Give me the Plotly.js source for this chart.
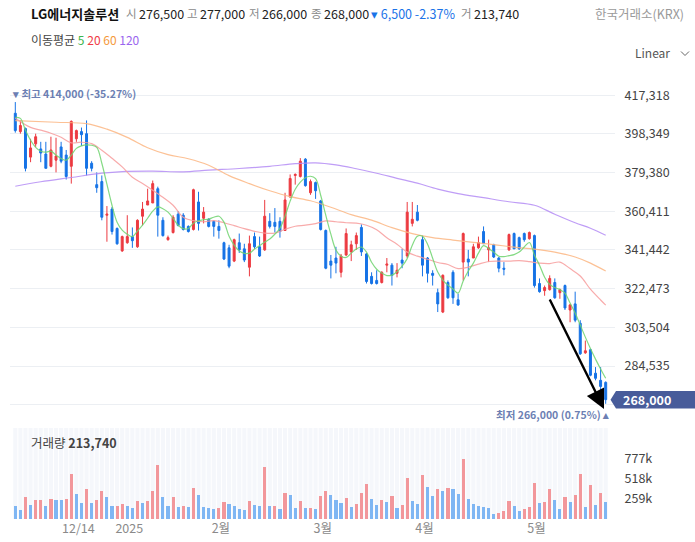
<!DOCTYPE html>
<html><head><meta charset="utf-8">
<script src="https://cdn.plot.ly/plotly-3.0.1.min.js"></script>
<style>html,body{margin:0;padding:0;background:#fff}#chart{width:695px;height:542px}</style>
</head><body><div id="chart"></div>
<script>
// ---------------- DATA ----------------
const stockName = 'LG에너지솔루션';
const exchangeName = '한국거래소(KRX)';
const openP = [408500,399500,401000,387000,393500,391000,388500,382500,385500,392000,
388000,382500,396000,399500,398500,384000,373500,375000,358500,361500,
352000,341000,345000,348000,343000,358000,363500,364500,371500,356000,
346500,350000,359000,358500,353000,351500,365000,357000,356500,355500,
353000,345000,342500,336000,345000,342000,333000,348000,343000,341500,
355500,355000,355500,351000,367500,378000,377500,386000,369500,374500,
365500,351000,336000,337500,330500,339000,340500,344500,352500,339500,
328500,326500,325500,334000,334000,330000,336500,338500,354500,360000,
346500,337500,330000,320500,311000,325500,330500,317000,335500,337000,
337500,342500,350500,341500,344000,337500,332500,341500,349500,347500,
349500,347000,348500,325000,321500,322000,325500,320500,324000,312000,
315000,305500,291000,292500,281000,277500,276500];
const highP = [414000,405000,401500,396000,398500,394500,394500,397000,396500,394500,
390500,405000,400500,401500,405000,385000,379500,378000,363000,362500,
352500,348500,358500,352500,356500,365000,371500,375500,372500,357500,
348500,358500,360500,359500,353500,371500,370000,362500,357000,356000,
356000,345500,344000,347000,349500,344500,348500,350000,348000,366000,
359500,362000,357500,369500,378500,379000,386500,386500,376000,375000,
366000,351500,339000,343000,339500,352000,346000,350000,354000,340000,
330500,331500,331000,337500,335000,335000,342000,365000,365000,363500,
348500,338000,331500,322500,329500,326500,331500,320000,350000,341500,
344500,348000,353000,346500,344500,338000,335500,349500,350000,348000,
350000,350500,349000,327500,324000,329000,327500,322500,324500,315000,
321000,307000,297000,293000,284000,284000,277000];
const lowP = [399000,398500,380000,384500,392000,384500,381500,382000,379500,384000,
376000,374000,394500,392500,378000,380000,369500,356000,345500,349000,
344000,340500,344500,342500,342500,353500,363500,364500,348000,348000,
346000,349500,353000,351000,350000,351000,351000,354500,352500,348000,
347000,336500,332500,335500,340000,335500,328500,342000,338000,341000,
352000,350000,347500,351000,367000,373500,377000,372500,368500,366500,
351000,332000,327500,330000,328000,338500,336000,341500,338500,325000,
324500,324500,325000,330500,324000,328000,332500,337500,353000,355500,
328500,325500,324000,311000,310500,317500,315000,314000,326500,328500,
337500,342000,344500,335500,337500,330500,329000,341000,342000,341500,
345500,346500,323000,320500,319000,321500,317500,317500,312000,306000,
306000,290000,290500,279500,277500,271500,266000];
const closeP = [400000,402500,381500,391500,397000,389000,381500,390500,387500,385000,
377500,404500,400000,398000,381500,381500,372000,357500,359000,350500,
344500,348000,348000,346000,356000,361500,365500,374000,358500,348500,
347500,357500,353500,351500,350500,371000,354500,360000,353000,353000,
351000,337000,333500,346500,341500,336500,344500,343000,338500,358000,
353000,353000,350500,366000,376500,378500,385000,373000,375000,370500,
351500,332500,334000,335000,338500,349500,344000,348500,340500,326000,
325000,325000,330500,334500,329000,331500,335000,360000,356500,356000,
334000,330000,329000,315000,329000,318000,318000,314500,349500,335500,
343000,345000,344500,342500,338000,332500,332000,349000,342000,342000,
346500,350000,324000,321000,323000,327500,318000,322000,313000,314500,
307000,290500,292000,280000,278500,274500,268000];
const volume = [168000,117000,281000,177000,242000,243000,168000,255000,250000,240000,
255000,583000,324000,203000,389000,203000,246000,363000,281000,168000,
170000,190000,168000,138000,233000,203000,233000,363000,699000,281000,
168000,281000,151000,168000,151000,397000,307000,151000,138000,125000,
138000,220000,190000,164000,125000,112000,233000,177000,168000,673000,
168000,170000,125000,337000,307000,138000,233000,138000,140000,125000,
294000,363000,307000,246000,203000,268000,151000,190000,337000,453000,
255000,177000,242000,216000,294000,138000,177000,527000,229000,190000,
566000,410000,294000,384000,363000,397000,384000,319000,773000,255000,
190000,164000,151000,138000,60000,73000,99000,233000,164000,99000,
125000,151000,466000,203000,216000,384000,242000,125000,281000,216000,
307000,583000,151000,436000,177000,332000,213740];
// moving averages
const ma5 = [406500,406000,400200,395300,391800,389900,389400,389900,388000,386300,
385500,388000,391300,392500,393000,392800,391800,384000,373700,363400,
355100,351200,349200,348000,350700,353600,357000,360500,362600,361700,
360000,357000,353600,351900,352000,354600,355800,356300,356600,357500,
358000,355100,348200,343800,340900,339800,339900,341900,343600,345300,
346800,349200,352100,358000,365400,371200,374700,376900,377600,376400,
368300,358500,349200,341400,338400,337800,339900,341900,342900,340400,
335400,332000,330100,328900,329100,330800,333500,337200,343800,348200,
348200,344300,337400,330600,326700,324200,322300,320300,326200,331100,
335000,339900,343600,342200,340400,338400,338200,338700,339200,340400,
342900,345100,338900,334000,328100,324500,323000,322000,320300,315400,
310500,304600,298700,293100,287900,283100,278500];
const ma20Idx = [0,3,5,7,9,11,13,15,17,19,21,23,25,27,29,31,33,35,37,39,41,43,45,47,49,51,53,55,57,59,
61,63,65,67,69,71,73,75,77,79,81,83,85,87,89,91,93,95,97,99,101,103,105,107,109,111,113,115,116];
const ma20 = [406100,401600,400200,398700,396700,394000,394300,393600,390400,386400,
382200,377100,374100,370800,367300,363400,357500,355800,355300,355800,
354800,353400,351900,350600,349700,349700,351600,353100,353600,354400,
355700,355300,354800,354600,353600,351400,347500,344300,340400,338400,
336900,335300,334300,332300,333000,334500,335800,336000,336000,336200,
335700,335000,334800,335500,332300,328700,322200,316900,314400];
const ma60Idx = [0,8,14,18,22,26,30,34,38,42,46,50,54,58,62,66,70,74,78,82,86,90,94,98,102,106,110,113,116];
const ma60 = [404900,404100,403400,400700,396700,391600,388200,386200,383000,377900,
374000,370500,367600,365600,362400,358800,356100,352400,349500,347500,
346300,345200,344100,342800,341900,340400,338000,335000,331100];
const ma120Idx = [0,5,11,17,21,27,33,38,44,50,55,59,63,67,71,75,79,83,87,92,97,102,106,110,113,116];
const ma120 = [372700,374900,377000,379100,379900,380100,379800,380600,381400,382500,
383800,384200,383200,381300,379100,376600,374200,371300,369100,367100,
365100,363400,359000,354800,352100,348700];
const priceTicks = [265566,284535,303504,322473,341442,360411,379380,398349,417318];
const volTicks = [259000,518000,777000];
const volTickText = ['259k','518k','777k'];
const dateTickIdx = [12,22,40,60,80,102];
const dateTickText = ['12/14','2025','2월','3월','4월','5월'];
const maNames = ['5','20','60','120'];

// ---------------- LAYOUT HELPERS ----------------
const W=695, H=542, ML=10, MR=80, MT=84, MB=23;
const PW=W-ML-MR, PH=H-MT-MB;
const px = x => (x-ML)/PW;
const py = y => (H-MB-y)/PH;
const FONT = 'Noto Sans CJK KR, Noto Sans, sans-serif';
const RED='#ec3a40', BLUE='#1673e6';

const n = closeP.length;
const idx = closeP.map((_,i)=>i);
const topTickPx = 95.3, lowTickPx = 366;
const pxPerWon = (lowTickPx-topTickPx)/(priceTicks[priceTicks.length-1]-priceTicks[1]);
const pTop = priceTicks[priceTicks.length-1] + (topTickPx-84)/pxPerWon;
const pBot = priceTicks[priceTicks.length-1] - (418-topTickPx)/pxPerWon;
const priceToPx = p => topTickPx + (priceTicks[priceTicks.length-1]-p)*pxPerWon;
const volMax = (519-428)/20 * volTicks[0];
const xr = [-(15.3-ML)/5.09, (n-1) + (W-MR-605.7)/5.09];

const fmt = v => v.toLocaleString('en-US');

// ---------------- TRACES ----------------
const volColors = volume.map((v,i)=> (i>0 && v>volume[i-1]) ? '#f2979b' : '#7fb6f3');
const traces = [
  {type:'candlestick', x:idx, open:openP, high:highP, low:lowP, close:closeP,
   xaxis:'x', yaxis:'y', whiskerwidth:0,
   increasing:{line:{color:RED,width:1}, fillcolor:RED},
   decreasing:{line:{color:BLUE,width:1}, fillcolor:BLUE},
   hoverinfo:'skip', showlegend:false},
  {type:'scatter', mode:'lines', x:ma120Idx, y:ma120, line:{color:'#b48cf5',width:1.2,shape:'spline'}, opacity:0.85, hoverinfo:'skip', showlegend:false},
  {type:'scatter', mode:'lines', x:ma60Idx, y:ma60, line:{color:'#fbb682',width:1.2,shape:'spline'}, opacity:0.85, hoverinfo:'skip', showlegend:false},
  {type:'scatter', mode:'lines', x:ma20Idx, y:ma20, line:{color:'#f79c9c',width:1.2,shape:'spline'}, opacity:0.85, hoverinfo:'skip', showlegend:false},
  {type:'scatter', mode:'lines', x:idx, y:ma5, line:{color:'#6fd46f',width:1.2,shape:'spline'}, opacity:0.85, hoverinfo:'skip', showlegend:false},
  {type:'bar', x:idx, y:volume, xaxis:'x2', yaxis:'y2', width:0.62,
   marker:{color:volColors, line:{width:0}}, hoverinfo:'skip', showlegend:false}
];

// ---------------- SHAPES ----------------
const shapes = [];
idx.forEach(i=>{
  shapes.push({type:'rect', xref:'x2', yref:'y2 domain', x0:i-0.4, x1:i+0.4, y0:0, y1:1,
    fillcolor:'#f5f7fb', line:{width:0}, layer:'below'});
});
const last = n-1;
const cy = priceToPx(closeP[last]);
const bp = `M ${px(610.5)},${py(cy)} L ${px(616)},${py(cy-8.8)} L ${px(696)},${py(cy-8.8)} L ${px(696)},${py(cy+8.8)} L ${px(616)},${py(cy+8.8)} Z`;
shapes.push({type:'path', xref:'paper', yref:'paper', path:bp, fillcolor:'#485c9a', line:{width:0}, layer:'above'});
shapes.push({type:'path', xref:'paper', yref:'paper',
  path:`M ${px(681)},${py(51.5)} L ${px(685)},${py(55.5)} L ${px(689)},${py(51.5)}`,
  line:{color:'#666',width:1}});

// ---------------- ANNOTATIONS ----------------
const ann = [];
function txt(x,y,text,opt){
  opt = opt||{};
  ann.push(Object.assign({xref:'paper',yref:'paper',x:px(x),y:py(y),text:text,showarrow:false,
    xanchor:opt.anchor||'left',yanchor:'middle',
    font:{family:FONT,size:opt.size||12.5,color:opt.color||'#222'}}, opt.extra||{}));
}
const chg = closeP[last]-closeP[last-1];
const chgPct = chg/closeP[last-1]*100;
txt(29,13,'<b>'+stockName+'</b>',{size:13,color:'#111'});
const hdr = [['시',openP[last],124],['고',highP[last],185],['저',lowP[last],247],['종',closeP[last],309]];
hdr.forEach(h=>{ txt(h[2],13,h[0],{color:'#8a8a8a',size:11.5}); txt(h[2]+13,13,fmt(h[1]),{color:'#222',size:12.5}); });
txt(369,13,(chg<0?'▾ ':'▴ ')+fmt(Math.abs(chg))+' '+chgPct.toFixed(2)+'%',{color:chg<0?'#1a73e8':RED});
txt(459,13,'거',{color:'#8a8a8a',size:11.5});
txt(472,13,fmt(volume[last]),{color:'#222'});
txt(686,13,exchangeName,{anchor:'right',color:'#9a9a9a'});
const maCols = ['#3cb44b','#f03a46','#f59a3c','#9a66ee'];
txt(29,40,'이동평균 '+maNames.map((m,i)=>'<span style="color:'+maCols[i]+'">'+m+'</span>').join(' '),{size:12,color:'#444'});
txt(633,53,'Linear',{size:12,color:'#555'});
txt(29,442,'거래량 <b>'+fmt(volume[last])+'</b>',{size:12.5,color:'#444'});
const maxH = Math.max(...highP), iMax = highP.indexOf(maxH);
const minL = Math.min(...lowP), iMin = lowP.indexOf(minL);
ann.push({xref:'x',yref:'y',x:iMax,y:maxH,xanchor:'left',yanchor:'bottom',xshift:-5,yshift:-1,showarrow:false,
  text:'<b>▾ 최고 '+fmt(maxH)+' ('+((closeP[last]/maxH-1)*100).toFixed(2)+'%)</b>',
  font:{family:FONT,size:10.5,color:'#6c7fb3'}});
ann.push({xref:'x',yref:'y',x:iMin,y:minL,xanchor:'right',yanchor:'top',xshift:5,yshift:-1,showarrow:false,
  text:'<b>최저 '+fmt(minL)+' ('+((closeP[last]/minL-1)*100).toFixed(2)+'%) ▴</b>',
  font:{family:FONT,size:10.5,color:'#6c7fb3'}});
txt(621,cy,'<b>'+fmt(closeP[last])+'</b>',{size:12.5,color:'#ffffff'});
ann.push({xref:'paper',yref:'paper',x:px(604),y:py(409),ax:-55,ay:-111,axref:'pixel',ayref:'pixel',
  text:'',showarrow:true,arrowhead:2,arrowsize:1.6,arrowwidth:2.4,arrowcolor:'#000',standoff:0});

// ---------------- LAYOUT ----------------
const layout = {
  width:W, height:H, margin:{l:ML,r:MR,t:MT,b:MB},
  paper_bgcolor:'#fff', plot_bgcolor:'rgba(0,0,0,0)',
  showlegend:false, hovermode:false, boxgap:0.45, bargap:0,
  font:{family:FONT,size:12,color:'#444'},
  xaxis:{domain:[0,1], anchor:'y', range:xr, showticklabels:false, showgrid:false, zeroline:false,
         showline:false, ticks:'', rangeslider:{visible:false}, fixedrange:true},
  yaxis:{domain:[py(418),1], anchor:'x', side:'right', range:[pBot,pTop],
         tickmode:'array', tickvals:priceTicks,
         ticktext:priceTicks.map((t,i)=> i===0 ? '' : fmt(t)),
         showgrid:true, gridcolor:'#eceff3', gridwidth:1, zeroline:false, showline:false,
         ticks:'outside', ticklen:6, tickcolor:'rgba(0,0,0,0)',
         tickfont:{family:FONT,size:12.5,color:'#444'}, fixedrange:true},
  xaxis2:{domain:[0,1], anchor:'y2', range:xr, showgrid:false, zeroline:false, showline:false,
         tickmode:'array', tickvals:dateTickIdx, ticktext:dateTickText, ticks:'', ticklabelshift:2,
         tickfont:{family:FONT,size:12.5,color:'#8a8a8a'}, fixedrange:true},
  yaxis2:{domain:[0,py(428)], anchor:'x2', side:'right', range:[0,volMax],
         tickmode:'array', tickvals:volTicks, ticktext:volTickText,
         showgrid:false, zeroline:false, showline:false,
         ticks:'outside', ticklen:6, tickcolor:'rgba(0,0,0,0)',
         tickfont:{family:FONT,size:12.5,color:'#444'}, fixedrange:true},
  shapes:shapes, annotations:ann
};
Plotly.newPlot('chart', traces, layout, {staticPlot:true, displayModeBar:false});
</script></body></html>
